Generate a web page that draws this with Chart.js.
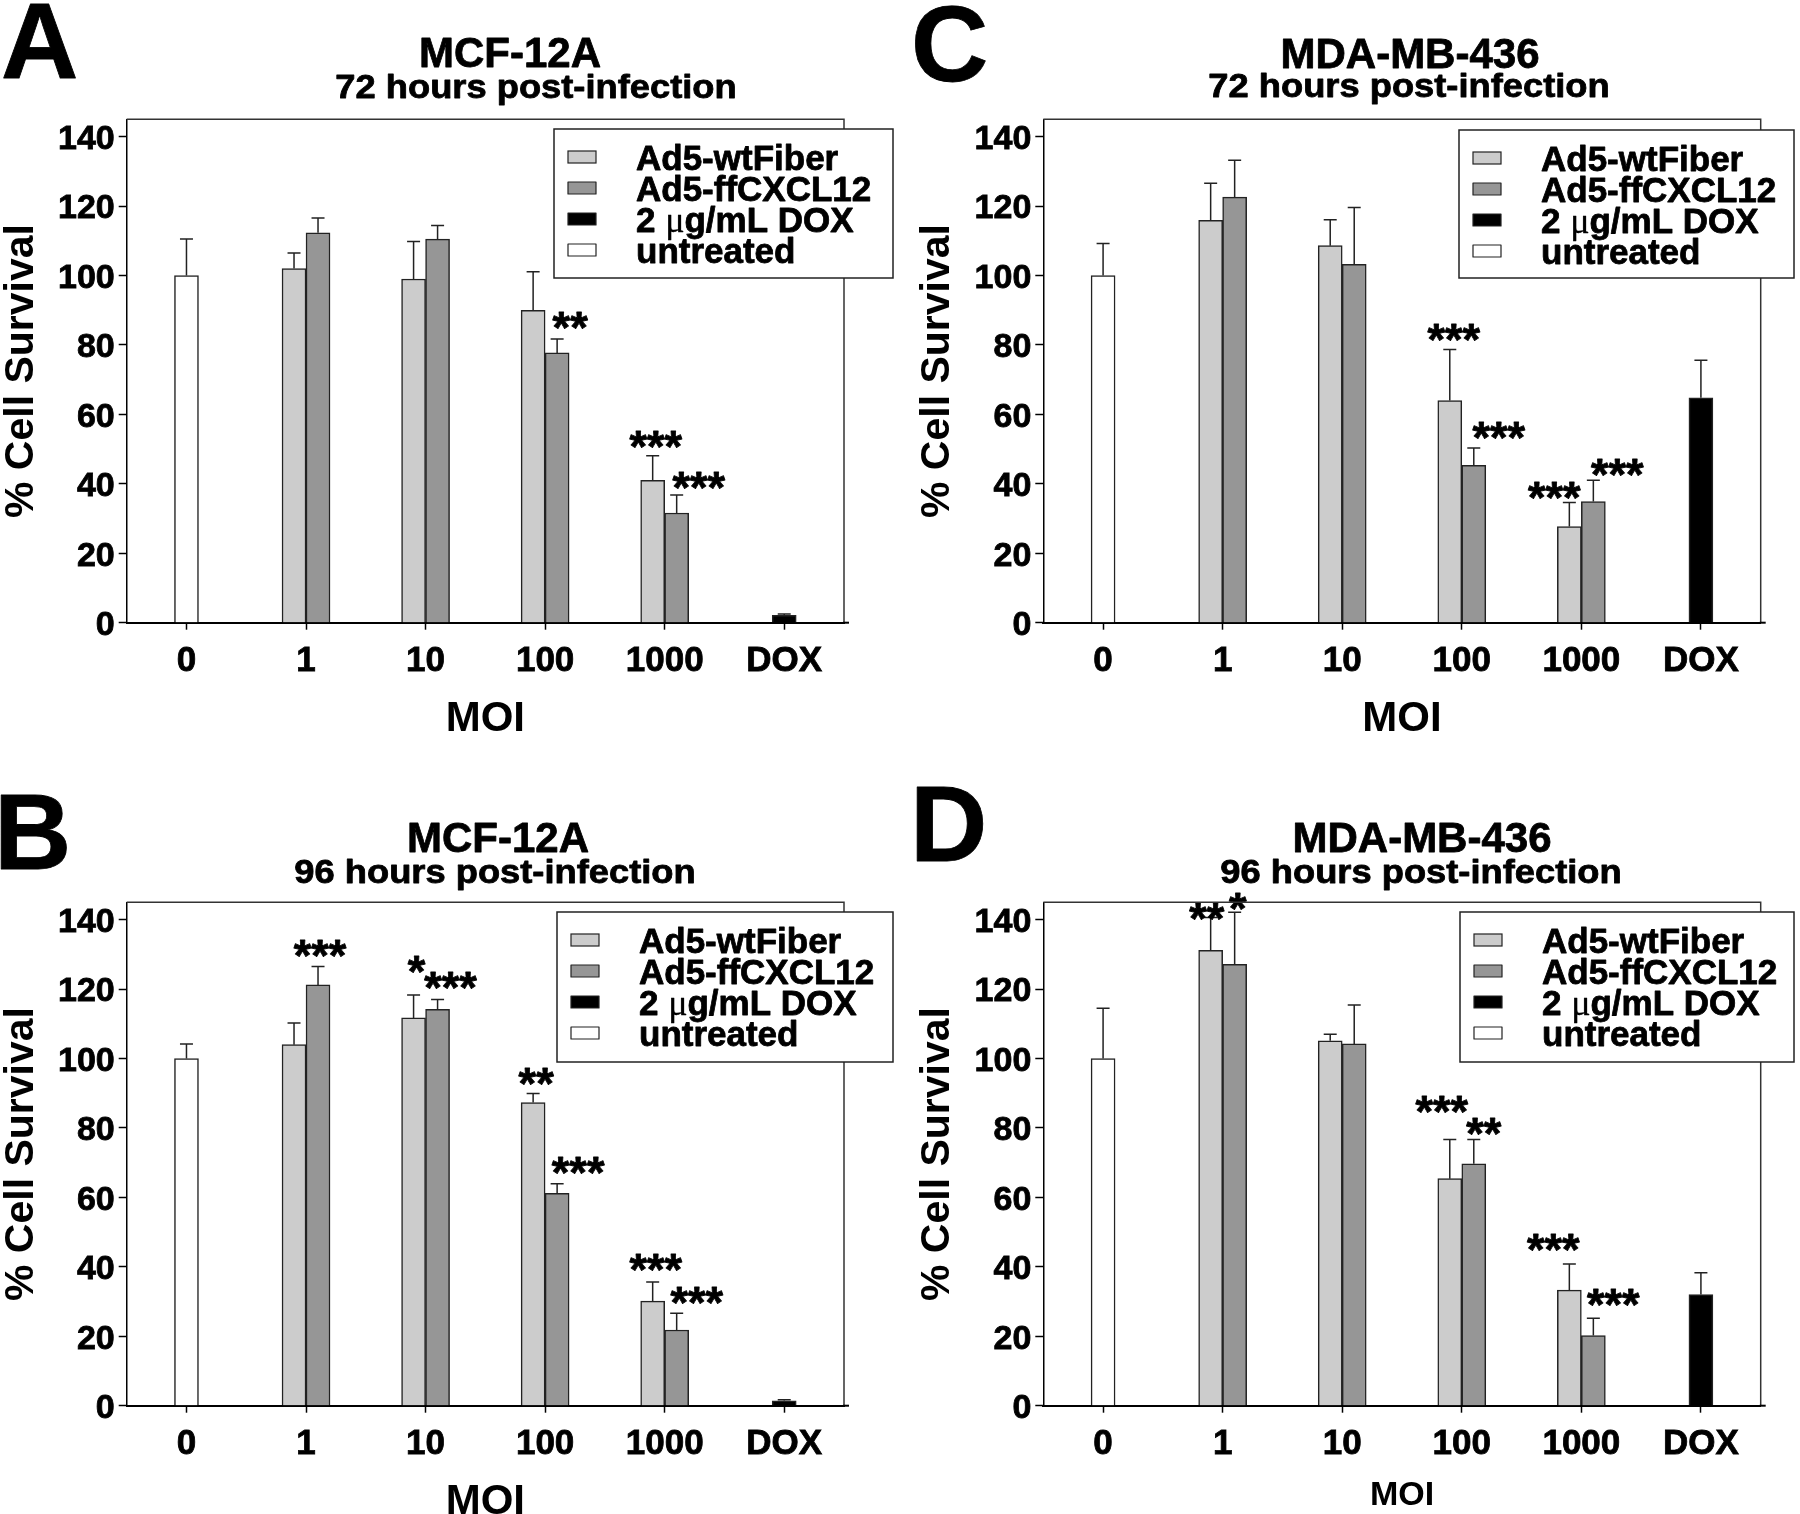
<!DOCTYPE html>
<html>
<head>
<meta charset="utf-8">
<script src="https://cdn.jsdelivr.net/npm/chart.js@4.4.0/dist/chart.umd.min.js"></script>
<style>
  html, body { margin: 0; padding: 0; background: #fff; }
  body { width: 1800px; height: 1514px; position: relative; overflow: hidden; }
  canvas { position: absolute; }
</style>
</head>
<body>
<canvas id="panelA" width="900" height="783" style="left:0;top:0"></canvas>
<canvas id="panelC" width="900" height="783" style="left:900px;top:0"></canvas>
<canvas id="panelB" width="900" height="783" style="left:0;top:783px"></canvas>
<canvas id="panelD" width="900" height="783" style="left:900px;top:783px"></canvas>
<script>
// categories, legend names, axis ticks
const moiLabels = ["0", "1", "10", "100", "1000", "DOX"];
const seriesNames = ["Ad5-wtFiber", "Ad5-ffCXCL12", "2 μg/mL DOX", "untreated"];
const yTickValues = [0, 20, 40, 60, 80, 100, 120, 140];
const yMax = 145;

// A - MCF-12A, 72 h
const mcf72Wt = [null, 102, 99, 90, 41, null];
const mcf72WtSd = [null, 4.5, 10.8, 11.1, 7.1, null];
const mcf72Ff = [null, 112.3, 110.5, 77.7, 31.6, null];
const mcf72FfSd = [null, 4.3, 3.9, 4.0, 5.2, null];
const mcf72Dox = [null, null, null, null, null, 2.1];
const mcf72DoxSd = [null, null, null, null, null, 0.4];
const mcf72Untreated = [100, null, null, null, null, null];
const mcf72UntreatedSd = [10.5, null, null, null, null, null];
const mcf72WtSig = ["", "", "", "", "***", ""];
const mcf72FfSig = ["", "", "", "**", "***", ""];

// C - MDA-MB-436, 72 h
const mda72Wt = [null, 115.9, 108.6, 64.0, 27.7, null];
const mda72WtSd = [null, 10.7, 7.5, 14.7, 6.9, null];
const mda72Ff = [null, 122.6, 103.2, 45.3, 34.9, null];
const mda72FfSd = [null, 10.6, 16.4, 5.0, 6.1, null];
const mda72Dox = [null, null, null, null, null, 64.8];
const mda72DoxSd = [null, null, null, null, null, 10.8];
const mda72Untreated = [100, null, null, null, null, null];
const mda72UntreatedSd = [9.2, null, null, null, null, null];
const mda72WtSig = ["", "", "", "***", "***", ""];
const mda72FfSig = ["", "", "", "***", "***", ""];

// B - MCF-12A, 96 h
const mcf96Wt = [null, 104.0, 111.7, 87.3, 30.1, null];
const mcf96WtSd = [null, 6.2, 6.6, 2.6, 5.5, null];
const mcf96Ff = [null, 121.2, 114.2, 61.2, 21.8, null];
const mcf96FfSd = [null, 5.3, 2.8, 2.7, 4.8, null];
const mcf96Dox = [null, null, null, null, null, 1.4];
const mcf96DoxSd = [null, null, null, null, null, 0.3];
const mcf96Untreated = [100, null, null, null, null, null];
const mcf96UntreatedSd = [4.2, null, null, null, null, null];
const mcf96WtSig = ["", "", "*", "**", "***", ""];
const mcf96FfSig = ["", "***", "***", "***", "***", ""];

// D - MDA-MB-436, 96 h
const mda96Wt = [null, 131.2, 105.1, 65.4, 33.3, null];
const mda96WtSd = [null, 9.4, 1.9, 11.3, 7.5, null];
const mda96Ff = [null, 127.1, 104.2, 69.7, 20.2, null];
const mda96FfSd = [null, 15.0, 11.2, 7.0, 5.0, null];
const mda96Dox = [null, null, null, null, null, 32.0];
const mda96DoxSd = [null, null, null, null, null, 6.3];
const mda96Untreated = [100, null, null, null, null, null];
const mda96UntreatedSd = [14.5, null, null, null, null, null];
const mda96WtSig = ["", "**", "", "***", "***", ""];
const mda96FfSig = ["", "*", "", "**", "***", ""];

const barColors = ["#cccccc", "#969696", "#000000", "#ffffff"];
const FONT = "'Liberation Sans', Arial, Helvetica, sans-serif";
const CANVAS_H = 783;
const PLOT_TOP = 119.3;
const PLOT_BOTTOM = 622.7;
const HEAVY = 0.8; // extra stroke so the bold text reads as heavy as the print

// star nudges: [dx from bar centre, gap above error cap]
const panels = [
  {
    id: "panelA", letter: "A", title: "MCF-12A", subtitle: "72 hours post-infection",
    series: [mcf72Wt, mcf72Ff, mcf72Dox, mcf72Untreated],
    sds: [mcf72WtSd, mcf72FfSd, mcf72DoxSd, mcf72UntreatedSd],
    sigs: [mcf72WtSig, mcf72FfSig],
    look: {
      plotLeft: 126.7, plotRight: 844, legend: [554, 129, 339, 149],
      letterX: 1, letterY: 78, titleX: 510, titleY: 67, subX: 536, subY: 98,
      yTitlePad: 1, moiSize: 42, moiPad: 43,
      nudge: [
        [null, null, null, null, [3, 12], null],
        [null, null, null, [13, 14], [22, 10], null]
      ]
    }
  },
  {
    id: "panelC", letter: "C", title: "MDA-MB-436", subtitle: "72 hours post-infection",
    series: [mda72Wt, mda72Ff, mda72Dox, mda72Untreated],
    sds: [mda72WtSd, mda72FfSd, mda72DoxSd, mda72UntreatedSd],
    sigs: [mda72WtSig, mda72FfSig],
    look: {
      plotLeft: 143.3, plotRight: 860.7, legend: [559, 130, 335, 148],
      letterX: 11, letterY: 81, titleX: 510, titleY: 68, subX: 509, subY: 97,
      yTitlePad: 17, moiSize: 42, moiPad: 43,
      nudge: [
        [null, null, null, [4, 12], [-15, 8], null],
        [null, null, null, [25, 13], [24, 8], null]
      ]
    }
  },
  {
    id: "panelB", letter: "B", title: "MCF-12A", subtitle: "96 hours post-infection",
    series: [mcf96Wt, mcf96Ff, mcf96Dox, mcf96Untreated],
    sds: [mcf96WtSd, mcf96FfSd, mcf96DoxSd, mcf96UntreatedSd],
    sigs: [mcf96WtSig, mcf96FfSig],
    look: {
      plotLeft: 126.7, plotRight: 844, legend: [557, 129, 336, 150],
      letterX: -6, letterY: 86, titleX: 498, titleY: 69, subX: 495, subY: 100,
      yTitlePad: 1, moiSize: 42, moiPad: 43,
      nudge: [
        [null, null, [3, 26], [3, 13], [3, 15], null],
        [null, [2, 14], [13, 15], [21, 14], [20, 13], null]
      ]
    }
  },
  {
    id: "panelD", letter: "D", title: "MDA-MB-436", subtitle: "96 hours post-infection",
    series: [mda96Wt, mda96Ff, mda96Dox, mda96Untreated],
    sds: [mda96WtSd, mda96FfSd, mda96DoxSd, mda96UntreatedSd],
    sigs: [mda96WtSig, mda96FfSig],
    look: {
      plotLeft: 143.3, plotRight: 860.7, legend: [560, 129, 334, 150],
      letterX: 10, letterY: 78, titleX: 522, titleY: 69, subX: 521, subY: 100,
      yTitlePad: 17, moiSize: 34, moiPad: 53,
      nudge: [
        [null, [-4, 2], null, [-8, 30], [-16, 17], null],
        [null, [3, 6], null, [10, 8], [20, 16], null]
      ]
    }
  }
];

function drawText(ctx, txt, x, y, font, align, sx) {
  ctx.save();
  ctx.font = font;
  ctx.fillStyle = "#000";
  ctx.strokeStyle = "#000";
  ctx.lineWidth = HEAVY;
  ctx.lineJoin = "round";
  ctx.textAlign = align;
  ctx.textBaseline = "alphabetic";
  ctx.translate(x, y);
  ctx.scale(sx || 1, 1);
  ctx.fillText(txt, 0, 0);
  ctx.strokeText(txt, 0, 0);
  ctx.restore();
}

function drawLegendLabel(ctx, label, x, y) {
  const parts = label.split("μ");
  let cx = x;
  ctx.textAlign = "left";
  ctx.textBaseline = "alphabetic";
  ctx.fillStyle = "#000";
  ctx.strokeStyle = "#000";
  ctx.lineJoin = "round";
  parts.forEach((part, k) => {
    if (k > 0) {
      ctx.font = "36px 'Liberation Serif', 'Times New Roman', serif";
      ctx.lineWidth = 0.3;
      ctx.fillText("μ", cx, y);
      ctx.strokeText("μ", cx, y);
      cx += ctx.measureText("μ").width;
    }
    ctx.font = "bold 35px " + FONT;
    ctx.lineWidth = HEAVY;
    ctx.fillText(part, cx, y);
    ctx.strokeText(part, cx, y);
    cx += ctx.measureText(part).width;
  });
}

const panelDecor = {
  id: "panelDecor",
  afterDatasetsDraw(chart, args, opts) {
    const p = opts.panel;
    const ctx = chart.ctx;
    const yScale = chart.scales.y;
    // error bars (upper only)
    ctx.save();
    ctx.strokeStyle = "#222";
    ctx.lineWidth = 1.5;
    p.series.forEach((vals, di) => {
      const meta = chart.getDatasetMeta(di);
      vals.forEach((v, i) => {
        const sd = p.sds[di][i];
        if (v == null || sd == null) return;
        const bar = meta.data[i];
        const yTop = yScale.getPixelForValue(v + sd);
        ctx.beginPath();
        ctx.moveTo(bar.x, bar.y);
        ctx.lineTo(bar.x, yTop);
        ctx.moveTo(bar.x - 6.5, yTop);
        ctx.lineTo(bar.x + 6.5, yTop);
        ctx.stroke();
      });
    });
    ctx.restore();
    // significance stars
    p.sigs.forEach((sig, di) => {
      const meta = chart.getDatasetMeta(di);
      sig.forEach((s, i) => {
        if (!s) return;
        const v = p.series[di][i];
        const sd = p.sds[di][i] || 0;
        const nd = p.look.nudge[di][i] || [0, 12];
        const bar = meta.data[i];
        const yTop = yScale.getPixelForValue(v + sd);
        drawText(ctx, s, bar.x + nd[0], yTop - nd[1] + 18, "bold 45px " + FONT, "center");
      });
    });
  },
  afterDraw(chart, args, opts) {
    const p = opts.panel;
    const L = p.look;
    const ctx = chart.ctx;
    const a = chart.chartArea;
    // frame top + right, axis stub to the right
    ctx.save();
    ctx.strokeStyle = "#333";
    ctx.lineWidth = 1.5;
    ctx.beginPath();
    ctx.moveTo(a.left, a.top);
    ctx.lineTo(a.right, a.top);
    ctx.lineTo(a.right, a.bottom);
    ctx.stroke();
    ctx.strokeStyle = "#000";
    ctx.lineWidth = 2;
    ctx.beginPath();
    ctx.moveTo(a.right - 1, a.bottom);
    ctx.lineTo(a.right + 5, a.bottom);
    ctx.stroke();
    ctx.restore();

    // legend box
    const [lx, ly, lw, lh] = L.legend;
    ctx.save();
    ctx.fillStyle = "#fff";
    ctx.fillRect(lx, ly, lw, lh);
    ctx.strokeStyle = "#222";
    ctx.lineWidth = 1.5;
    ctx.strokeRect(lx, ly, lw, lh);
    seriesNames.forEach((name, k) => {
      const cy = ly + 28 + k * 31;
      ctx.fillStyle = barColors[k];
      ctx.fillRect(lx + 14, cy - 6, 28, 12);
      ctx.strokeStyle = "#222";
      ctx.lineWidth = 1.2;
      ctx.strokeRect(lx + 14, cy - 6, 28, 12);
      drawLegendLabel(ctx, name, lx + 82, cy + 12.5);
    });
    ctx.restore();

    // panel letter and titles
    drawText(ctx, p.letter, L.letterX, L.letterY, "bold 107px " + FONT, "left");
    drawText(ctx, p.title, L.titleX, L.titleY, "bold 42px " + FONT, "center");
    drawText(ctx, p.subtitle, L.subX, L.subY, "bold 33px " + FONT, "center", 1.1);
  }
};

function makeChart(p) {
  const L = p.look;
  const datasets = p.series.map((vals, k) => ({
    label: seriesNames[k],
    data: vals,
    backgroundColor: barColors[k],
    borderColor: "#222",
    borderWidth: 1.5,
    barThickness: 24,
    skipNull: true
  }));
  return new Chart(document.getElementById(p.id), {
    type: "bar",
    data: { labels: moiLabels, datasets: datasets },
    options: {
      responsive: false,
      animation: false,
      devicePixelRatio: 1,
      layout: { padding: { top: PLOT_TOP, right: 900 - L.plotRight, bottom: 0, left: 0 } },
      plugins: {
        legend: { display: false },
        tooltip: { enabled: false },
        panelDecor: { panel: p }
      },
      scales: {
        x: {
          afterFit(scale) { scale.height = CANVAS_H - PLOT_BOTTOM; },
          ticks: {
            color: "#000", font: { family: FONT, size: 35, weight: "bold" }, padding: 11,
            maxRotation: 0, autoSkip: false, textStrokeColor: "#000", textStrokeWidth: HEAVY
          },
          grid: { offset: false, drawOnChartArea: false, drawTicks: true, tickLength: 7, tickWidth: 1.5, tickColor: "#000" },
          border: { display: true, color: "#000", width: 2 },
          title: {
            display: true, text: "MOI", color: "#000",
            font: { family: FONT, size: L.moiSize, weight: "bold", lineHeight: 1 },
            padding: { top: 0, bottom: L.moiPad }
          }
        },
        y: {
          min: 0,
          max: yMax,
          afterFit(scale) { scale.width = L.plotLeft; },
          afterBuildTicks(scale) { scale.ticks = yTickValues.map(v => ({ value: v })); },
          ticks: {
            color: "#000", font: { family: FONT, size: 34, weight: "bold" }, padding: 4, labelOffset: 3,
            textStrokeColor: "#000", textStrokeWidth: HEAVY
          },
          grid: { drawOnChartArea: false, drawTicks: true, tickLength: 8, tickWidth: 1.5, tickColor: "#000" },
          border: { display: true, color: "#000", width: 1.5 },
          title: {
            display: true, text: "% Cell Survival", color: "#000",
            font: { family: FONT, size: 41, weight: "bold", lineHeight: 1 },
            padding: { top: L.yTitlePad, bottom: 0 }
          }
        }
      }
    },
    plugins: [panelDecor]
  });
}

panels.forEach(makeChart);
</script>
</body>
</html>
